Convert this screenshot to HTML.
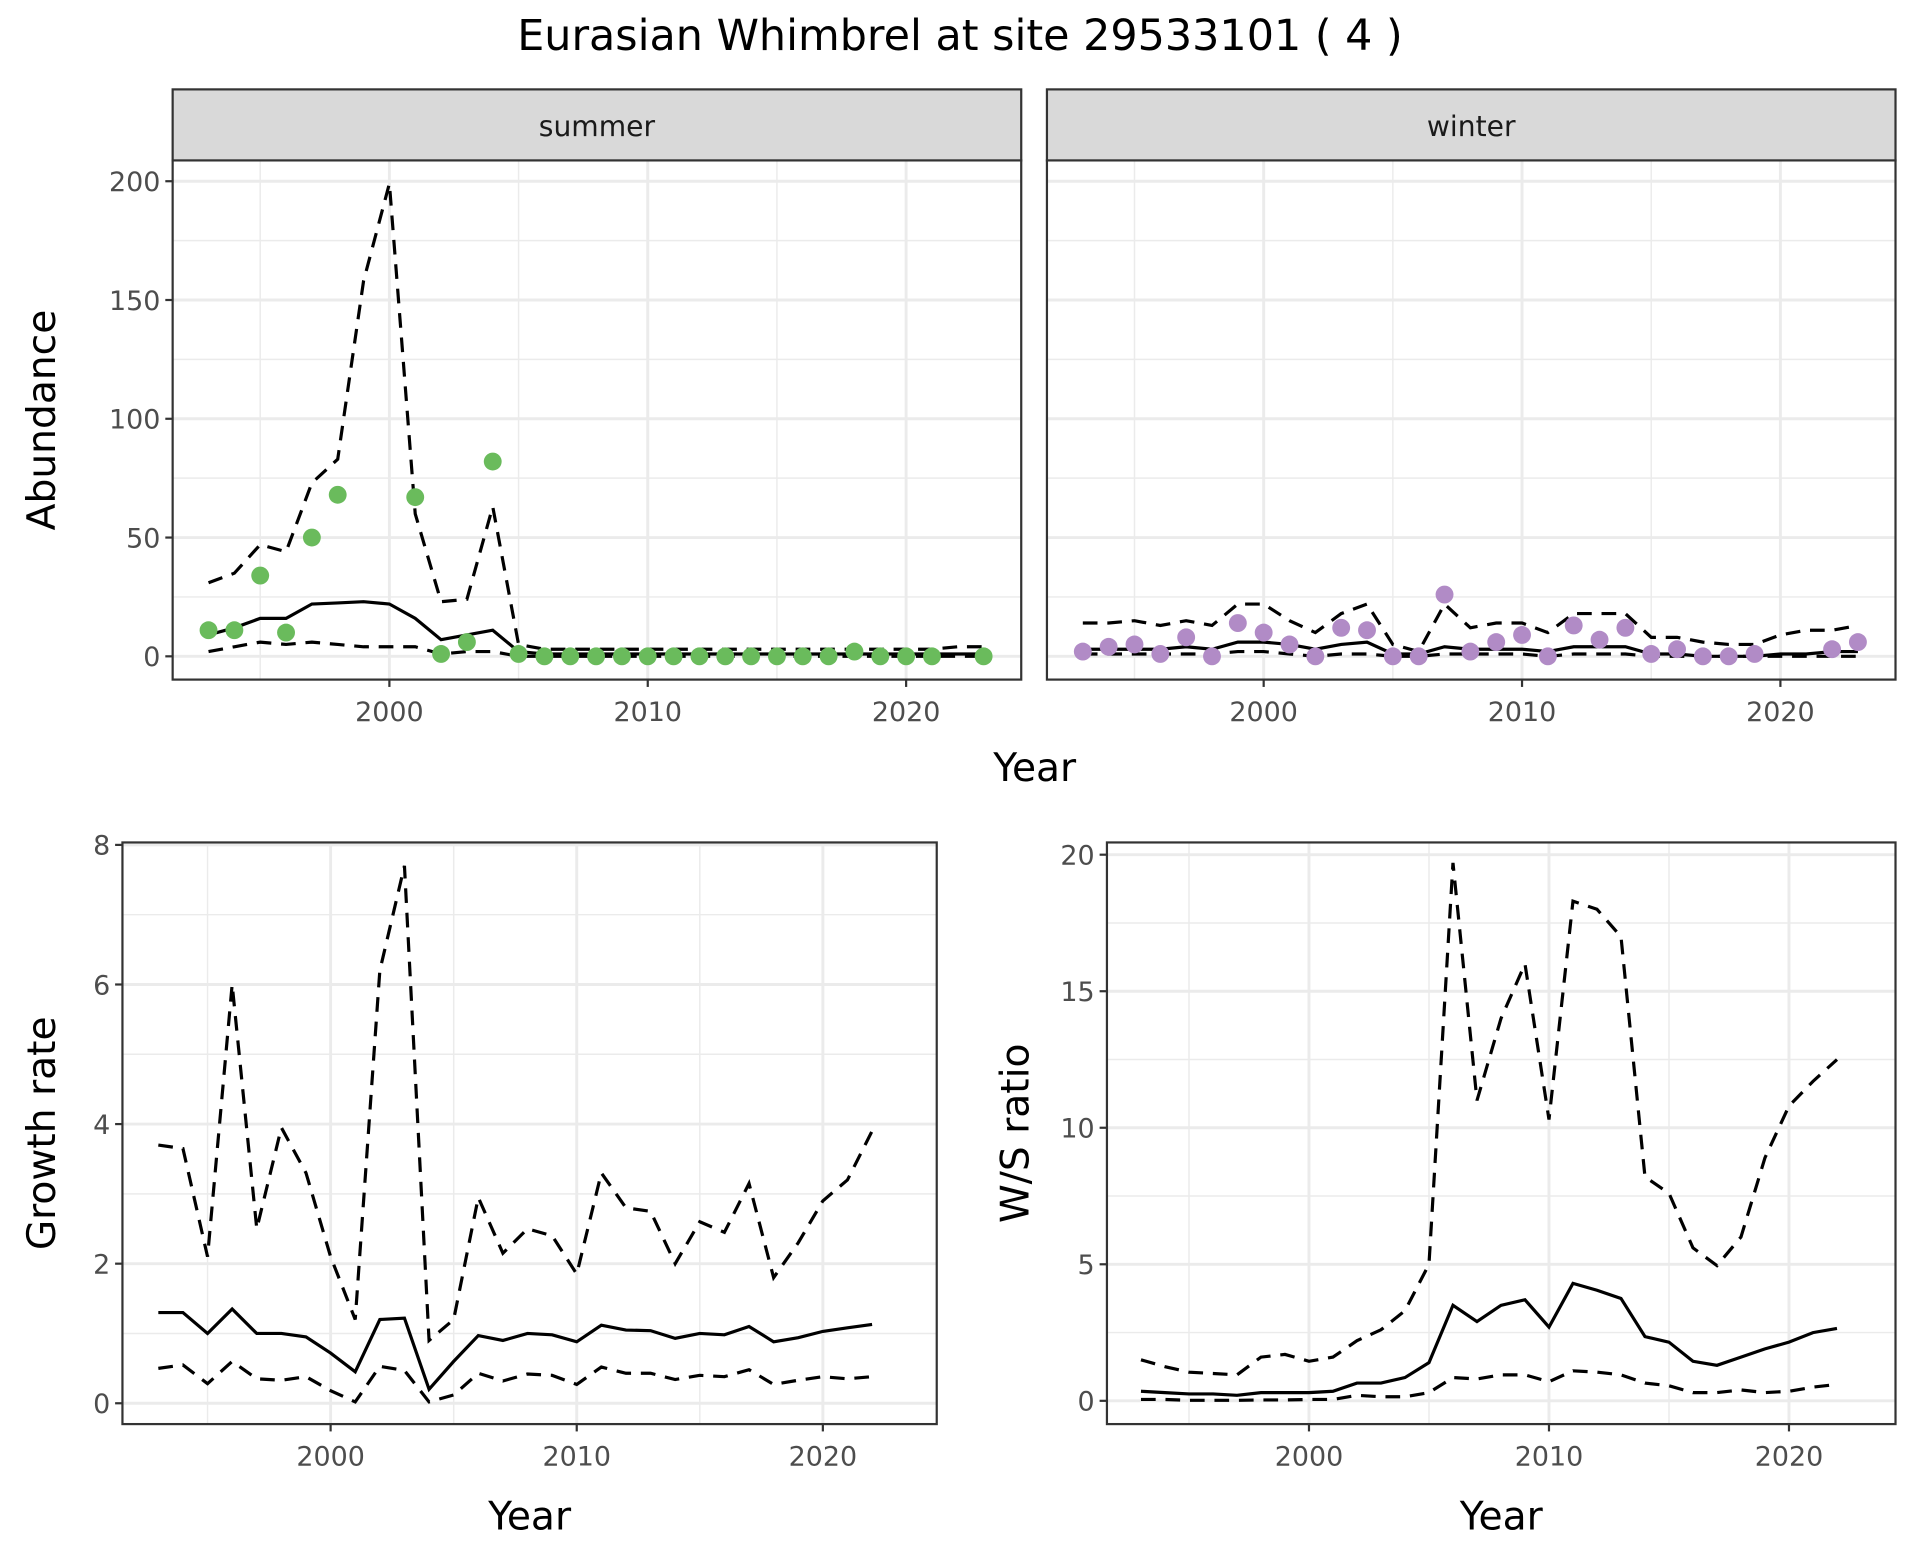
<!DOCTYPE html>
<html><head><meta charset="utf-8"><style>
html,body{margin:0;padding:0;background:#fff;}
svg{display:block;font-family:"DejaVu Sans","Liberation Sans",sans-serif;}
</style></head><body>
<svg id="chart" width="1920" height="1560" viewBox="0 0 1568 1274" xmlns="http://www.w3.org/2000/svg">
<rect width="1568" height="1274" fill="#fff"/>
<text x="784" y="41" text-anchor="middle" font-size="35" fill="#000">Eurasian Whimbrel at site 29533101 ( 4 )</text>
</svg>
<script>
const years = [1993,1994,1995,1996,1997,1998,1999,2000,2001,2002,2003,2004,2005,2006,2007,2008,2009,2010,2011,2012,2013,2014,2015,2016,2017,2018,2019,2020,2021,2022,2023];
const summerObs = [11,11,34,10,50,68,null,null,67,1,6,82,1,0,0,0,0,0,0,0,0,0,0,0,0,2,0,0,0,null,0];
const summerMean = [9,12,16,16,22,22.5,23,22,16,7,9,11,2,1,1,1,1,1,1,1,1,1,1,1,1,1,1,1,1,1,1];
const summerUpper = [31,35,47,44,73,83,158,199,60,23,24,63,5,3,3,3,3,3,3,3,3,3,3,3,3,3,3,3,3,4,4];
const summerLower = [2,4,6,5,6,5,4,4,4,1,2,2,0,0,0,0,0,0,0,0,0,0,0,0,0,0,0,0,0,0,0];
const winterObs = [2,4,5,1,8,0,14,10,5,0,12,11,0,0,26,2,6,9,0,13,7,12,1,3,0,0,1,null,null,3,6];
const winterMean = [3,3,3,3,4,3,6,6,5,3,5,6,1,1,4,3,3,3,2,4,4,4,1,1,0,0,0,1,1,2,2];
const winterUpper = [14,14,15,13,15,13,22,22,15,10,18,22,5,2,22,12,14,14,10,18,18,18,8,8,6,5,5,9,11,11,13];
const winterLower = [1,1,1,1,1,1,2,2,1,0,1,1,0,0,1,1,1,1,0,1,1,1,0,0,0,0,0,0,0,0,0];
const years2 = [1993,1994,1995,1996,1997,1998,1999,2000,2001,2002,2003,2004,2005,2006,2007,2008,2009,2010,2011,2012,2013,2014,2015,2016,2017,2018,2019,2020,2021,2022];
const growthMean = [1.3,1.3,1.0,1.35,1.0,1.0,0.95,0.72,0.45,1.2,1.22,0.2,0.6,0.97,0.9,1.0,0.98,0.88,1.12,1.05,1.04,0.93,1.0,0.98,1.1,0.88,0.94,1.03,1.08,1.13];
const growthUpper = [3.7,3.65,2.1,6.0,2.5,3.95,3.3,2.1,1.2,6.2,7.7,0.9,1.2,2.95,2.15,2.5,2.4,1.85,3.3,2.8,2.75,2.0,2.6,2.45,3.15,1.8,2.3,2.9,3.2,3.9];
const growthLower = [0.5,0.55,0.28,0.6,0.35,0.33,0.38,0.18,0.02,0.53,0.47,0.02,0.12,0.43,0.32,0.42,0.4,0.27,0.52,0.43,0.43,0.34,0.4,0.38,0.48,0.27,0.33,0.38,0.35,0.38];
const wsMean = [0.35,0.3,0.25,0.25,0.2,0.3,0.3,0.3,0.35,0.65,0.65,0.85,1.4,3.5,2.9,3.5,3.7,2.7,4.3,4.05,3.75,2.35,2.15,1.45,1.3,1.6,1.9,2.15,2.5,2.65];
const wsUpper = [1.5,1.25,1.05,1.0,0.95,1.6,1.7,1.45,1.6,2.2,2.6,3.3,5.0,19.7,11.0,14.0,16.0,10.3,18.3,18.0,17.0,8.2,7.6,5.6,4.95,6.0,8.9,10.8,11.7,12.5];
const wsLower = [0.05,0.05,0.02,0.02,0.02,0.03,0.03,0.05,0.05,0.2,0.15,0.15,0.3,0.85,0.8,0.95,0.95,0.7,1.1,1.05,0.95,0.65,0.55,0.3,0.3,0.4,0.3,0.35,0.5,0.6];
const xTicks = [2000,2010,2020];
const abundTicks = [0,50,100,150,200];
const growthTicks = [0,2,4,6,8];
const wsTicks = [0,5,10,15,20];

const NS = "http://www.w3.org/2000/svg";
const svg = document.getElementById('chart');
function mk(tag, attrs, parent){
  const e = document.createElementNS(NS, tag);
  for (const k in attrs) e.setAttribute(k, attrs[k]);
  (parent||svg).appendChild(e);
  return e;
}
function panel(p){
  const g = mk('g', {});
  
  
  const sx = v => p.x0 + (v - p.xa) * (p.x1 - p.x0) / (p.xb - p.xa);
  const sy = v => p.y0 + (v - p.ya) * (p.y1 - p.y0) / (p.yb - p.ya);
  const dx = xTicks[1]-xTicks[0];
  for (let t = xTicks[0]-dx/2; t <= xTicks[xTicks.length-1]+dx; t += dx/2){
    const X = sx(t); if (X < p.L || X > p.R) continue;
    const major = xTicks.includes(t);
    mk('line', {x1:X,x2:X,y1:p.T,y2:p.B,stroke:'#ebebeb','stroke-width':major?2.4:1.2}, g);
  }
  const dy = p.yTicks[1]-p.yTicks[0];
  for (let t = p.yTicks[0]; t <= p.yTicks[p.yTicks.length-1]+dy/2; t += dy/2){
    const Y = sy(t); if (Y < p.T || Y > p.B) continue;
    const major = p.yTicks.includes(t);
    mk('line', {x1:p.L,x2:p.R,y1:Y,y2:Y,stroke:'#ebebeb','stroke-width':major?2.4:1.2}, g);
  }
  const series = [[p.upper,'12,8'],[p.lower,'12,8'],[p.mean,null]];
  series.forEach(([arr,dash]) => {
    let d = '';
    arr.forEach((v,i) => { d += (i?'L':'M') + sx(p.yrs[i]).toFixed(1) + ',' + sy(v).toFixed(1); });
    const path = mk('path', {d:d, fill:'none', stroke:'#000', 'stroke-width':2.6}, g);
    if (dash) path.setAttribute('stroke-dasharray', dash);
    
    
  });
  if (p.obs){
    p.obs.forEach((v,i) => {
      if (v === null) return;
      const c = mk('circle', {cx:sx(p.yrs[i]), cy:sy(v), r:7.3, fill:p.color}, g);
      
      
    });
  }
  mk('rect', {x:p.L,y:p.T,width:p.R-p.L,height:p.B-p.T,fill:'none',stroke:'#333','stroke-width':1.8}, g);
  xTicks.forEach(t => {
    const X = sx(t);
    mk('line', {x1:X,x2:X,y1:p.B,y2:p.B+6,stroke:'#333','stroke-width':1.8}, g);
    const tx = mk('text', {x:X,y:p.B+34,'text-anchor':'middle','font-size':22,fill:'#4d4d4d'}, g);
    tx.textContent = t;
    
    
  });
  if (p.showY){
    p.yTicks.forEach(t => {
      const Y = sy(t);
      mk('line', {x1:p.L-6,x2:p.L,y1:Y,y2:Y,stroke:'#333','stroke-width':1.8}, g);
      const tx = mk('text', {x:p.L-10,y:Y+8,'text-anchor':'end','font-size':22,fill:'#4d4d4d'}, g);
      tx.textContent = t;
      
      
    });
  }
  if (p.strip){
    mk('rect', {x:p.L,y:p.T-58,width:p.R-p.L,height:58,fill:'#d9d9d9',stroke:'#333','stroke-width':1.8}, g);
    const st = mk('text', {x:(p.L+p.R)/2,y:p.T-20,'text-anchor':'middle','font-size':23,fill:'#1a1a1a'}, g);
    st.textContent = p.strip;
    
    
  }
  if (p.yTitle){
    const yt = mk('text', {x:0,y:0,'text-anchor':'middle','font-size':32,fill:'#000',transform:`translate(${p.yTitleX},${(p.T+p.B)/2}) rotate(-90)`}, g);
    yt.textContent = p.yTitle;
    
    
  }
  if (p.xTitleY){
    const xt = mk('text', {x:(p.L+p.R)/2,y:p.xTitleY,'text-anchor':'middle','font-size':32,fill:'#000'}, g);
    xt.textContent = 'Year';
    
    
  }
}
panel({name:'summer-panel',L:141,R:834,T:131,B:555,xa:2000,xb:2010,x0:318,x1:529,ya:0,yb:200,y0:536,y1:148,
  yrs:years,obs:summerObs,mean:summerMean,upper:summerUpper,lower:summerLower,color:'#6abb5c',
  yTicks:abundTicks,showY:true,strip:'summer',yTitle:'Abundance',yTitleX:45});
panel({name:'winter-panel',L:855,R:1548,T:131,B:555,xa:2000,xb:2010,x0:1032,x1:1243,ya:0,yb:200,y0:536,y1:148,
  yrs:years,obs:winterObs,mean:winterMean,upper:winterUpper,lower:winterLower,color:'#b18bc6',
  yTicks:abundTicks,showY:false,strip:'winter'});
const yr = mk('text', {x:845,y:638,'text-anchor':'middle','font-size':32,fill:'#000'});
yr.textContent = 'Year';


panel({name:'growth-panel',L:100,R:765,T:688,B:1163,xa:2000,xb:2010,x0:270,x1:471,ya:0,yb:8,y0:1146,y1:690,
  yrs:years2,mean:growthMean,upper:growthUpper,lower:growthLower,
  yTicks:growthTicks,showY:true,yTitle:'Growth rate',yTitleX:45,xTitleY:1249});
panel({name:'ws-ratio-panel',L:904,R:1548,T:688,B:1163,xa:2000,xb:2010,x0:1069,x1:1265,ya:0,yb:20,y0:1144,y1:698,
  yrs:years2,mean:wsMean,upper:wsUpper,lower:wsLower,
  yTicks:wsTicks,showY:true,yTitle:'W/S ratio',yTitleX:840,xTitleY:1249});
</script>
</body></html>
